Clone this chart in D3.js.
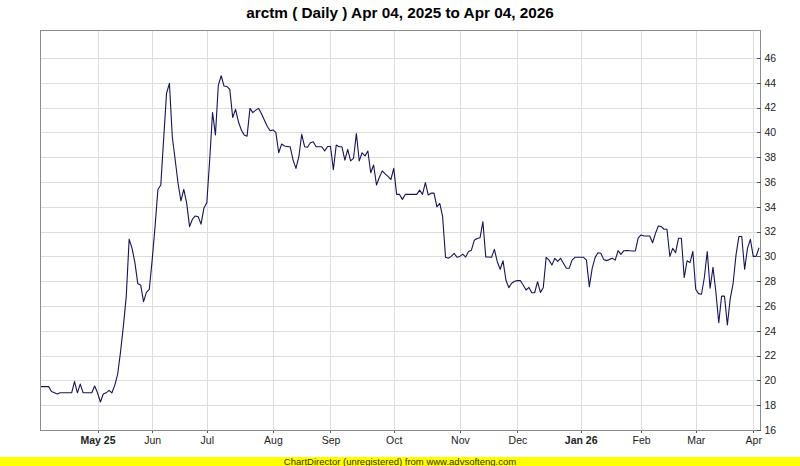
<html>
<head>
<meta http-equiv="Content-Type" content="text/html; charset=UTF-8" />
<script src="https://cdn.jsdelivr.net/npm/d3@7/dist/d3.min.js"></script>
<style type="text/css">
    body { margin: 0; background: #ffffff; }
    svg { display: block; font-family: "Liberation Sans", Arial, sans-serif; }
</style>
</head>
<body>
<div id="chart"></div>
<script type="text/javascript">

    // daily closes, one array per month (trading days only)
    const apr25 = [19.5, 19.5, 19.5, 19.5, 19.1, 19.0, 18.9, 19.0, 19.0, 19.0, 19.0, 19.0, 19.9, 19.0, 19.7, 19.0, 19.0, 19.0, 19.0, 19.55];
    const may25 = [19.0, 18.26, 18.9, 19.0, 19.2, 19.0, 19.6, 20.5, 22.3, 24.4, 26.8, 31.4, 30.65, 29.5, 27.8, 27.7, 26.35, 27.1, 27.35];
    const jun25 = [29.7, 32.4, 35.4, 35.76, 39.5, 43.15, 43.96, 39.65, 37.8, 35.9, 34.47, 35.4, 34.3, 32.4, 33.0, 33.26, 33.2, 32.6, 33.9];
    const jul25 = [34.33, 37.8, 41.6, 39.8, 43.8, 44.57, 43.74, 43.7, 43.47, 41.2, 41.86, 40.86, 40.19, 39.8, 39.7, 41.94, 41.6, 41.8, 41.94, 41.5, 41.0, 40.5, 40.14];
    const aug25 = [40.2, 40.0, 38.36, 39.06, 38.9, 38.87, 38.84, 37.77, 37.1, 38.04, 39.85, 38.85, 38.8, 39.17, 39.25, 38.84, 38.84, 38.84, 38.5, 38.87];
    const sep25 = [38.87, 37.0, 38.98, 38.84, 38.84, 37.77, 38.64, 37.7, 37.9, 39.9, 37.7, 38.36, 38.1, 38.5, 36.75, 37.37, 35.76, 36.38, 36.9, 36.65, 36.45, 36.2];
    const oct25 = [37.1, 35.0, 35.0, 34.6, 35.0, 35.0, 35.0, 35.0, 35.0, 35.35, 35.0, 35.95, 34.95, 35.1, 35.1, 34.0, 34.28, 33.2, 29.93, 29.85, 30.0, 30.25, 29.93];
    const nov25 = [30.0, 30.18, 29.95, 30.4, 30.5, 31.3, 31.45, 31.5, 32.8, 29.95, 29.95, 29.93, 30.57, 29.57, 28.96, 29.65, 28.1, 27.48, 27.83, 28.0];
    const dec25 = [28.05, 28.05, 27.7, 27.29, 27.5, 27.07, 27.07, 27.96, 27.1, 27.5, 29.93, 29.7, 29.3, 29.85, 29.6, 29.85, 29.45, 29.04, 29.04, 29.7, 29.93, 29.93];
    const jan26 = [29.93, 29.93, 29.7, 27.56, 29.04, 29.9, 30.3, 30.25, 29.76, 29.66, 29.76, 29.85, 29.7, 30.46, 30.17, 30.46, 30.48, 30.46, 30.44, 30.44, 31.5];
    const feb26 = [31.73, 31.65, 31.65, 31.65, 31.1, 31.86, 32.45, 32.4, 32.19, 32.19, 30.0, 30.65, 30.3, 31.46, 31.46, 28.3, 29.65, 29.5, 30.4];
    const mar26 = [27.35, 27.0, 26.95, 28.3, 30.4, 27.43, 29.12, 27.15, 24.65, 26.8, 26.8, 24.47, 26.6, 27.83, 30.1, 31.6, 31.6, 28.96, 30.65, 31.38];
    const apr26 = [30.0, 30.0, 30.7];

    const months = [apr25, may25, jun25, jul25, aug25, sep25, oct25, nov25, dec25, jan26, feb26, mar26, apr26];
    // label for each month start after the first (partial) month
    const monthLabels = ["May 25", "Jun", "Jul", "Aug", "Sep", "Oct", "Nov", "Dec", "Jan 26", "Feb", "Mar", "Apr"];
    const boldLabels = ["May 25", "Jan 26"];
    const yTicks = [16, 18, 20, 22, 24, 26, 28, 30, 32, 34, 36, 38, 40, 42, 44, 46];

    const title = "arctm ( Daily ) Apr 04, 2025 to Apr 04, 2026";
    const footer = "ChartDirector (unregistered) from www.advsofteng.com";

    const width = 800, height = 466;
    const plotL = 40, plotR = 760, plotT = 30, plotB = 430;

    // flatten into index based series
    const closes = [].concat(...months);
    const monthStarts = [];
    let n = 0;
    months.forEach(function(m, i) {
        if (i > 0) monthStarts.push(n);
        n += m.length;
    });

    const x = d3.scaleLinear().domain([0, closes.length - 1]).range([plotL, 759]);
    const y = d3.scaleLinear().domain([16, 48.26]).range([plotB, plotT]);

    const svg = d3.select("#chart").append("svg")
        .attr("width", width)
        .attr("height", height);

    svg.append("rect")
        .attr("width", width).attr("height", height)
        .attr("fill", "#ffffff");

    // grille
    const grid = svg.append("g").attr("shape-rendering", "crispEdges");
    grid.selectAll("line.h")
        .data(yTicks.slice(1))
        .enter().append("line")
        .attr("x1", plotL).attr("x2", plotR)
        .attr("y1", d => Math.round(y(d)) + 0.5)
        .attr("y2", d => Math.round(y(d)) + 0.5)
        .attr("stroke", "#dddddd");
    grid.selectAll("line.v")
        .data(monthStarts)
        .enter().append("line")
        .attr("x1", d => Math.round(x(d)) + 0.5)
        .attr("x2", d => Math.round(x(d)) + 0.5)
        .attr("y1", plotT).attr("y2", plotB)
        .attr("stroke", "#dddddd");

    // la courbe
    const line = d3.line()
        .x((d, i) => x(i))
        .y(d => y(d));

    svg.append("path")
        .datum(closes)
        .attr("d", line)
        .attr("fill", "none")
        .attr("stroke", "#14145a")
        .attr("stroke-width", 1.1)
        .attr("stroke-linejoin", "round");

    // cadre
    svg.append("rect")
        .attr("x", plotL + 0.5).attr("y", plotT + 0.5)
        .attr("width", plotR - plotL).attr("height", plotB - plotT)
        .attr("fill", "none")
        .attr("stroke", "#8c8c8c")
        .attr("shape-rendering", "crispEdges");

    // axe y a droite
    const yAxis = svg.append("g")
        .attr("transform", "translate(" + (plotR + 0.5) + ",0)")
        .call(d3.axisRight(y).tickValues(yTicks).tickSize(-4).tickPadding(4).tickFormat(d3.format("d")));
    yAxis.select(".domain").remove();
    yAxis.selectAll("line").attr("stroke", "#555555").attr("shape-rendering", "crispEdges");
    yAxis.selectAll("text")
        .style("font-size", "10.5px")
        .attr("fill", "#222222");

    // axe x
    const xAxis = svg.append("g")
        .attr("transform", "translate(0," + (plotB + 0.5) + ")")
        .call(d3.axisBottom(x).tickValues(monthStarts).tickSize(2).tickPadding(4)
            .tickFormat((d, i) => monthLabels[i]));
    xAxis.select(".domain").remove();
    xAxis.selectAll("line").attr("stroke", "#555555").attr("shape-rendering", "crispEdges");
    xAxis.selectAll("text")
        .style("font-size", "10.5px")
        .style("font-weight", d => boldLabels.indexOf(monthLabels[monthStarts.indexOf(d)]) >= 0 ? "bold" : "normal")
        .attr("fill", "#222222");

    // titre
    svg.append("text")
        .attr("x", width / 2).attr("y", 18)
        .attr("text-anchor", "middle")
        .style("font-size", "15.3px")
        .style("font-weight", "bold")
        .attr("fill", "#000000")
        .text(title);

    // bandeau jaune
    svg.append("rect")
        .attr("x", 0).attr("y", 457)
        .attr("width", width).attr("height", 9)
        .attr("fill", "#ffff00");
    svg.append("text")
        .attr("x", width / 2).attr("y", 464.5)
        .attr("text-anchor", "middle")
        .style("font-size", "9.5px")
        .attr("fill", "#333300")
        .text(footer);

</script>
</body>
</html>
